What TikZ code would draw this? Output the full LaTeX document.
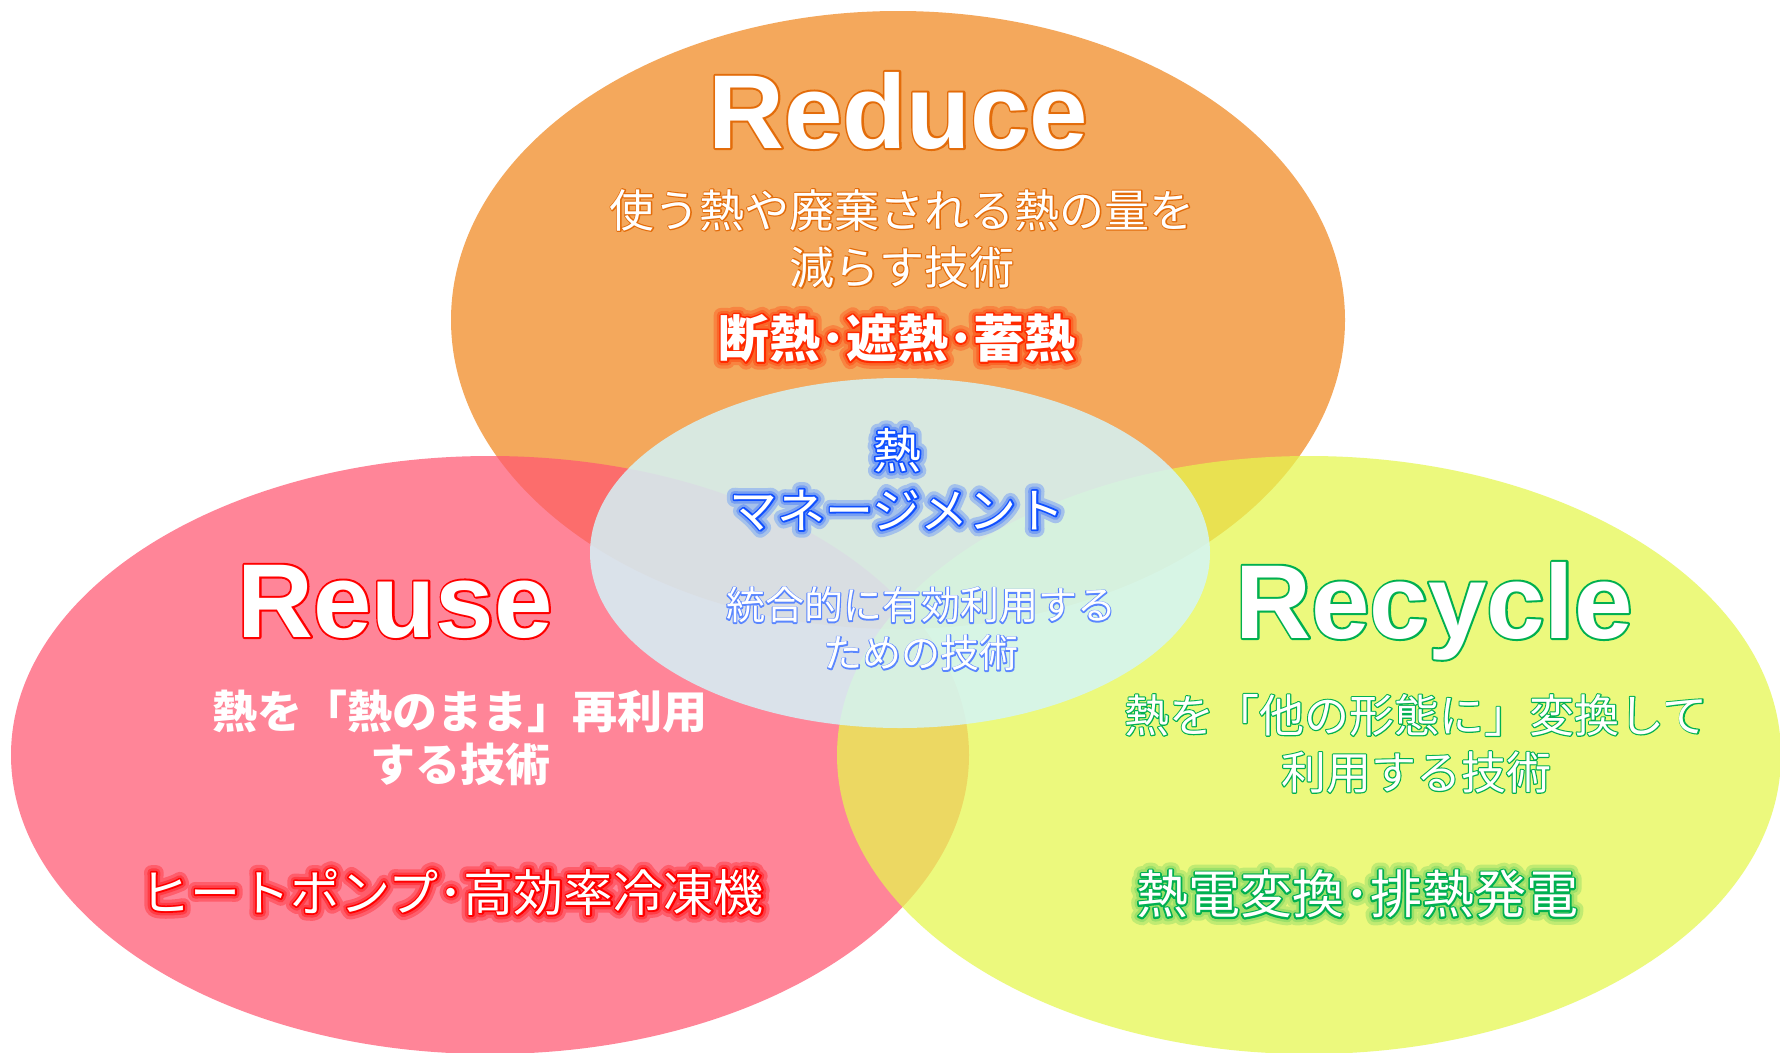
\documentclass[tikz,border=0pt]{standalone}
\usepackage{fontspec}
\setmainfont{Liberation Sans}
\newfontfamily\jp{Noto Sans CJK JP}
\definecolor{orA}{HTML}{F18820}
\definecolor{piA}{HTML}{FF5873}
\definecolor{yeA}{HTML}{E5F74E}
\definecolor{ceA}{HTML}{D3F5FB}
% stroke-only layer: #1 stroke rgb, #2 stroke width, #3 text
\newcommand\skl[3]{\rlap{\special{pdf:code #1 RG #2 w 1 j 1 J 1 Tr}#3\special{pdf:code 0 Tr}}}
% outlined text: white fill over a stroke of colour #1 and width #2
\newcommand\otl[3]{\skl{#1}{#2}{#3}#3}
% glowing text: #1 outer glow rgb, #2 inner glow rgb, #3 outline rgb, #4 outline width, #5 text
\newcommand\glw[5]{\skl{#1}{15}{#5}\skl{#2}{8.5}{#5}\otl{#3}{#4}{#5}}
\begin{document}
\begin{tikzpicture}[x=1pt,y=-1pt,
  txt/.style={text=white, inner sep=0pt, align=center},
  blob/.style={fill opacity=0.73},
  title/.style={txt, anchor=base, font=\fontsize{105}{110}\selectfont\bfseries},
  desc/.style={txt, font=\jp\fontsize{45}{#1}\selectfont},
]
\useasboundingbox (0,0) rectangle (1780,1052);
\fill[white] (0,0) rectangle (1780,1052);
% circles
\fill[orA, blob] (898,320) ellipse [x radius=447pt, y radius=309pt];
\fill[piA, blob] (490,755) ellipse [x radius=479pt, y radius=299pt];
\fill[yeA, blob] (1309,755) ellipse [x radius=472pt, y radius=299pt];
\fill[ceA, fill opacity=0.83] (900,553) ellipse [x radius=310pt, y radius=175pt];
% Reduce
\node[title] (reduceT) at (898,148) {\otl{0.89 0.424 0.039}{4}{Reduce}};
\node[desc=57] (reduceD) at (902,238.5) {\otl{0.89 0.424 0.039}{2.2}{使う熱や廃棄される熱の量を}\\\otl{0.89 0.424 0.039}{2.2}{減らす技術}};
\node[txt, font=\jp\bfseries\fontsize{51}{54}\selectfont] (reduceB) at (897,338) {\glw{0.973 0.518 0.253}{0.982 0.401 0.162}{1 0.165 0}{3.6}{断熱･遮熱･蓄熱}};
% centre
\node[txt, font=\jp\fontsize{48}{60}\selectfont] (manage) at (897,479) {\glw{0.642 0.755 0.92}{0.472 0.625 0.949}{0.063 0.314 1}{3.4}{熱}\\\glw{0.642 0.755 0.92}{0.472 0.625 0.949}{0.063 0.314 1}{3.4}{マネージメント}};
\node[txt, font=\jp\fontsize{39}{48}\selectfont] (centerD) at (921,629) {\otl{0.353 0.525 1}{2.2}{統合的に有効利用する}\\\otl{0.353 0.525 1}{2.2}{ための技術}};
% Reuse
\node[title] (reuseT) at (395,637) {\otl{1 0 0}{4}{Reuse}};
\node[txt, font=\jp\bfseries\fontsize{45}{53}\selectfont] (reuseD) at (460,737.5) {熱を「熱のまま」再利用\\する技術};
\node[txt, font=\jp\fontsize{50}{54}\selectfont] (reuseB) at (452,892) {\glw{1 0.365 0.42}{1 0.235 0.27}{1 0 0}{3.4}{ヒートポンプ･高効率冷凍機}};
% Recycle
\node[title] (recycleT) at (1434,638) {\otl{0 0.69 0.314}{4}{Recycle}};
\node[desc=57] (recycleD) at (1416,743.5) {\otl{0 0.69 0.314}{2.2}{熱を「他の形態に」変換して}\\\otl{0 0.69 0.314}{2.2}{利用する技術}};
\node[txt, font=\jp\fontsize{52}{54}\selectfont] (recycleB) at (1357,894) {\glw{0.751 0.923 0.449}{0.606 0.879 0.412}{0 0.69 0.314}{3.4}{熱電変換･排熱発電}};
\end{tikzpicture}
\end{document}
